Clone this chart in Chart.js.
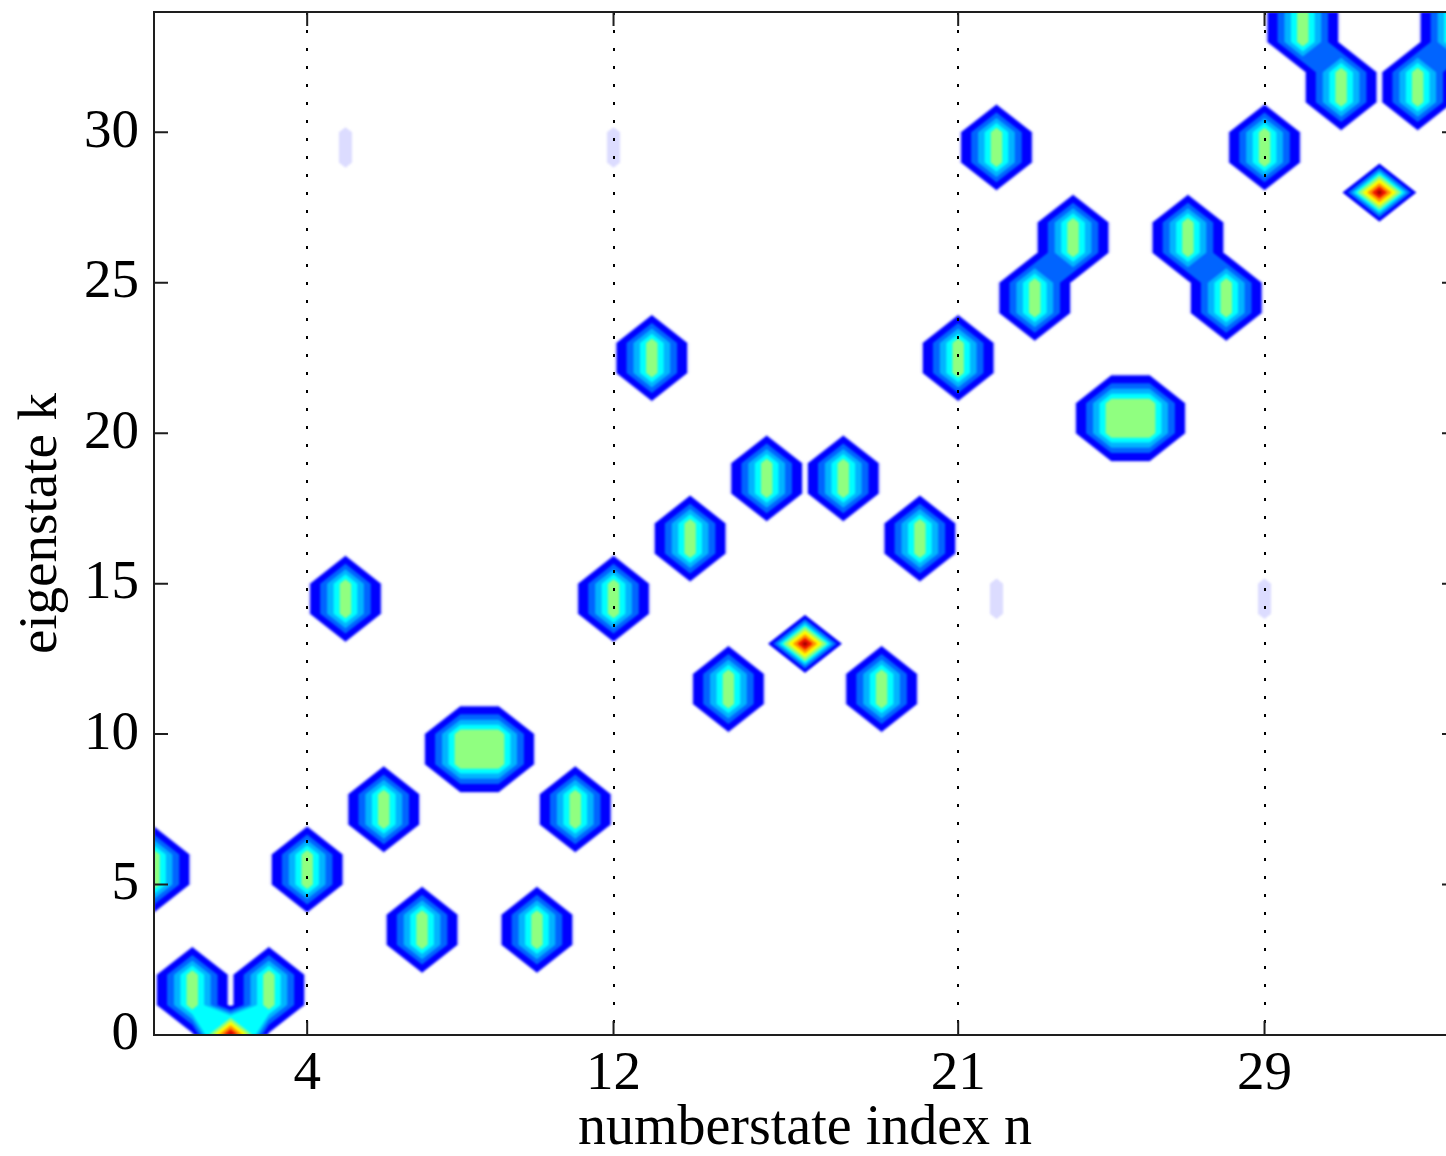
<!DOCTYPE html>
<html>
<head>
<meta charset="utf-8">
<script src="https://cdn.jsdelivr.net/npm/chart.js@4.4.1/dist/chart.umd.min.js"></script>
<style>
  html, body { margin: 0; padding: 0; background: #fff; overflow: hidden; }
  #wrap { width: 1470px; height: 1156px; }
</style>
</head>
<body>
<div id="wrap"><canvas id="c" width="1470" height="1156"></canvas></div>
<script>
// grid size: numberstate index n (x) and eigenstate k (y)
const nMax = 34;
const kMax = 34;
const xTickVals = [4, 12, 21, 29];
const yTickVals = [0, 5, 10, 15, 20, 25, 30];

// blobs made of two stacked grid points (n,k) and (n,k+1)
const pairN = [0, 1, 3, 4, 5, 6, 7, 10, 11, 12, 13, 14, 15, 16, 18, 19, 20, 21, 22, 23, 24, 27, 28, 29, 30, 31, 33, 34];
const pairK = [5, 1, 1, 5, 14, 7, 3, 3, 7, 14, 22, 16, 11, 18, 18, 11, 16, 22, 29, 24, 26, 26, 24, 29, 33, 31, 31, 33];
const pairZ = [0.5, 0.5, 0.5, 0.5, 0.5, 0.5, 0.5, 0.5, 0.5, 0.5, 0.5, 0.5, 0.5, 0.5,
               0.5, 0.5, 0.5, 0.5, 0.5, 0.5, 0.5, 0.5, 0.5, 0.5, 0.5, 0.5, 0.5, 0.5];

// very weak stacked pairs (pale marks)
const faintN = [5, 12, 22, 29];
const faintK = [29, 29, 14, 14];
const faintZ = [0.0145, 0.0145, 0.0145, 0.0145];

// 2x2 blocks (n..n+1, k..k+1)
const quadN = [8, 25];
const quadK = [9, 20];
const quadZ = [0.5, 0.5];

// single strong points
const peakN = [2, 17, 32];
const peakK = [0, 13, 28];
const peakZ = [1.0, 1.0, 1.0];

// contour levels and fill colours (jet-like)
const levels = [0.012, 0.04, 0.17, 0.26, 0.345, 0.425, 0.55, 0.68, 0.8, 0.92];
const levelColors = ['#dcdcff', '#0000ff', '#0064ff', '#00b4ff', '#00ffff', '#90ff80',
                     '#ffff00', '#ff9600', '#f01400', '#a00000'];

const gridPoints = [];
pairN.forEach((n, i) => {
  gridPoints.push({x: n, y: pairK[i], z: pairZ[i]});
  gridPoints.push({x: n, y: pairK[i] + 1, z: pairZ[i]});
});
faintN.forEach((n, i) => {
  gridPoints.push({x: n, y: faintK[i], z: faintZ[i]});
  gridPoints.push({x: n, y: faintK[i] + 1, z: faintZ[i]});
});
quadN.forEach((n, i) => {
  [[0, 0], [1, 0], [0, 1], [1, 1]].forEach(d => {
    gridPoints.push({x: n + d[0], y: quadK[i] + d[1], z: quadZ[i]});
  });
});
peakN.forEach((n, i) => gridPoints.push({x: n, y: peakK[i], z: peakZ[i]}));

const corners = [[0, 0], [1, 0], [1, 1], [0, 1]];

// region of one grid cell where value >= L (marching squares, saddle by centre value)
function cellPolys(c, L) {
  const up = c.map(v => v >= L);
  const cross = (i, j) => {
    const t = (L - c[i]) / (c[j] - c[i]);
    return [corners[i][0] + t * (corners[j][0] - corners[i][0]),
            corners[i][1] + t * (corners[j][1] - corners[i][1])];
  };
  const saddle = (up[0] && up[2] && !up[1] && !up[3]) || (up[1] && up[3] && !up[0] && !up[2]);
  if (saddle && (c[0] + c[1] + c[2] + c[3]) / 4 < L) {
    return [0, 1, 2, 3].filter(i => up[i]).map(i => {
      const p = (i + 3) % 4, nx = (i + 1) % 4;
      return [cross(p, i), corners[i], cross(i, nx)];
    });
  }
  const poly = [];
  for (let i = 0; i < 4; i++) {
    const j = (i + 1) % 4;
    if (up[i]) poly.push(corners[i]);
    if (up[i] !== up[j]) poly.push(cross(i, j));
  }
  return [poly];
}

const contourFill = {
  id: 'contourFill',
  beforeDraw(chart) {
    const {ctx, chartArea: a, scales: {x, y}} = chart;
    const Z = [];
    for (let k = 0; k <= kMax; k++) Z.push(new Array(nMax + 1).fill(0));
    chart.data.datasets[0].data.forEach(p => { Z[p.y][p.x] = p.z; });

    ctx.save();
    ctx.beginPath();
    ctx.rect(a.left, a.top, a.right - a.left, a.bottom - a.top);
    ctx.clip();
    ctx.filter = 'blur(1.3px)';
    levels.forEach((L, li) => {
      ctx.beginPath();
      for (let k = 0; k < kMax; k++) {
        for (let n = 0; n < nMax; n++) {
          const c = [Z[k][n], Z[k][n + 1], Z[k + 1][n + 1], Z[k + 1][n]];
          if (Math.max(...c) < L) continue;
          cellPolys(c, L).forEach(poly => {
            poly.forEach((q, i) => {
              const px = x.getPixelForValue(n + q[0]);
              const py = y.getPixelForValue(k + q[1]);
              if (i) ctx.lineTo(px, py); else ctx.moveTo(px, py);
            });
            ctx.closePath();
          });
        }
      }
      ctx.fillStyle = levelColors[li];
      ctx.fill();
    });
    ctx.restore();
  }
};

// box and inward ticks on all four sides
const frameTicks = {
  id: 'frameTicks',
  afterDraw(chart) {
    const {ctx, chartArea: a, scales: {x, y}} = chart;
    const len = 14;
    ctx.save();
    ctx.strokeStyle = '#1e1e1e';
    ctx.lineWidth = 2;
    ctx.beginPath();
    xTickVals.forEach(v => {
      const px = x.getPixelForValue(v);
      ctx.moveTo(px, a.bottom); ctx.lineTo(px, a.bottom - len);
      ctx.moveTo(px, a.top); ctx.lineTo(px, a.top + len);
    });
    yTickVals.forEach(v => {
      const py = y.getPixelForValue(v);
      ctx.moveTo(a.left, py); ctx.lineTo(a.left + len, py);
      ctx.moveTo(a.right, py); ctx.lineTo(a.right - len, py);
    });
    ctx.stroke();
    ctx.strokeRect(a.left, a.top, a.right - a.left, a.bottom - a.top);
    ctx.restore();
  }
};

const serif = "'Liberation Serif', 'Times New Roman', serif";

new Chart(document.getElementById('c'), {
  type: 'scatter',
  data: {
    datasets: [{
      data: gridPoints,
      pointRadius: 0,
      pointHoverRadius: 0,
      showLine: false
    }]
  },
  options: {
    responsive: false,
    animation: false,
    layout: { padding: { top: 12, right: 14, left: 0, bottom: 0 } },
    plugins: {
      legend: { display: false },
      tooltip: { enabled: false }
    },
    scales: {
      x: {
        type: 'linear',
        min: 0,
        max: nMax,
        afterBuildTicks: s => { s.ticks = xTickVals.map(v => ({value: v})); },
        afterFit: s => { s.height = 121; s.paddingLeft = 0; s.paddingRight = 0; },
        grid: { display: true, drawOnChartArea: true, drawTicks: false, color: '#000', lineWidth: 2 },
        border: { display: false, dash: [3, 15] },
        ticks: {
          color: '#000',
          font: { family: serif, size: 55 },
          padding: 7,
          maxRotation: 0,
          autoSkip: false
        },
        title: {
          display: true,
          text: 'numberstate index n',
          color: '#000',
          font: { family: serif, size: 56, lineHeight: 0.97 },
          padding: { top: 0, bottom: 0 }
        }
      },
      y: {
        type: 'linear',
        min: 0,
        max: kMax,
        afterBuildTicks: s => { s.ticks = yTickVals.map(v => ({value: v})); },
        afterFit: s => { s.width = 154; s.paddingTop = 0; s.paddingBottom = 0; },
        grid: { display: false, drawTicks: false },
        border: { display: false },
        ticks: {
          color: '#000',
          font: { family: serif, size: 55 },
          padding: 15,
          autoSkip: false
        },
        title: {
          display: true,
          text: 'eigenstate k',
          color: '#000',
          font: { family: serif, size: 55, lineHeight: 1.2 },
          padding: { top: 9, bottom: 0 }
        }
      }
    }
  },
  plugins: [contourFill, frameTicks]
});
</script>
</body>
</html>
